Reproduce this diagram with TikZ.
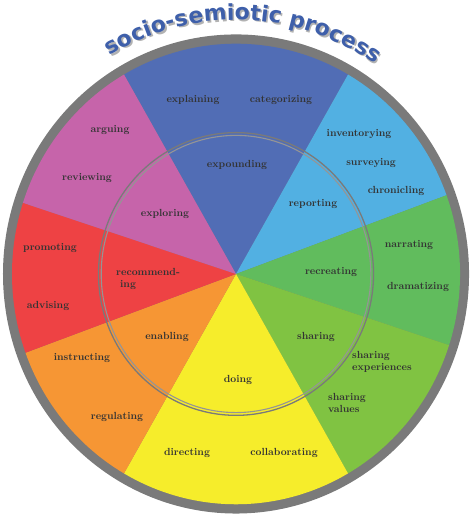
\documentclass[tikz,border=0pt]{standalone}
\usepackage{fontspec}
\newfontfamily\titlefont{DejaVu Sans}
\usetikzlibrary{decorations.text}
\definecolor{expblue}{HTML}{516DB5}
\definecolor{repblue}{HTML}{52B0E2}
\definecolor{recgreen}{HTML}{61BC5D}
\definecolor{shagreen}{HTML}{80C342}
\definecolor{doyellow}{HTML}{F6ED2B}
\definecolor{enaorange}{HTML}{F69634}
\definecolor{recred}{HTML}{EE4244}
\definecolor{explpink}{HTML}{C664AA}
\definecolor{ringgray}{HTML}{7A7A7A}
\definecolor{titleblue}{HTML}{3E5FAA}
\tikzset{
	lbl/.style={font=\fontsize{10.3}{11.5}\selectfont\bfseries, text=black!80, inner sep=0pt},
	twoline/.style={lbl, align=left, anchor=west},
}
\begin{document}
\begin{tikzpicture}[x=1pt, y=1.028pt]
		\useasboundingbox (-236,-239.3) rectangle (236,266.5);
		\fill[ringgray] (0,0) circle [radius=233];
		\fill[expblue] (0,0) -- (60:224) arc[start angle=60, end angle=120, radius=224] -- cycle;
		\fill[repblue] (0,0) -- (20:224) arc[start angle=20, end angle=60, radius=224] -- cycle;
		\fill[recgreen] (0,0) -- (-18:224) arc[start angle=-18, end angle=20, radius=224] -- cycle;
		\fill[shagreen] (0,0) -- (-60:224) arc[start angle=-60, end angle=-18, radius=224] -- cycle;
		\fill[doyellow] (0,0) -- (-120:224) arc[start angle=-120, end angle=-60, radius=224] -- cycle;
		\fill[enaorange] (0,0) -- (200:224) arc[start angle=200, end angle=240, radius=224] -- cycle;
		\fill[recred] (0,0) -- (162:224) arc[start angle=162, end angle=200, radius=224] -- cycle;
		\fill[explpink] (0,0) -- (120:224) arc[start angle=120, end angle=162, radius=224] -- cycle;
		\draw[line width=1.3pt, ringgray] (0,0) circle [radius=137.5];
		\draw[line width=1.1pt, ringgray!80] (0,0) circle [radius=134.8];
		% title, shadow first
		\path[decorate, decoration={text along path, text color=gray!60, text align=center,
			text={|\titlefont\bfseries\fontsize{22}{26}\selectfont|socio-semiotic process}}]
			([shift={(1.5,-1.5)}]148:247) arc[start angle=148, end angle=28.5, radius=247];
		\path[decorate, decoration={text along path, text color=titleblue, text align=center,
			text={|\titlefont\bfseries\fontsize{22}{26}\selectfont|socio-semiotic process}}]
			(148:247) arc[start angle=148, end angle=28.5, radius=247];
		\node[lbl] (explaining) at (-43,169.3) {explaining};
		\node[lbl] (categorizing) at (45,169.3) {categorizing};
		\node[lbl] (expounding) at (1,106) {expounding};
		\node[lbl] (arguing) at (-126,140) {arguing};
		\node[lbl] (reviewing) at (-149,93.4) {reviewing};
		\node[lbl] (exploring) at (-71,58.4) {exploring};
		\node[lbl] (promoting) at (-186,25.3) {promoting};
		\node[twoline] (recommending) at (-120,-4.9) {recommend-\\\hspace*{4pt}ing};
		\node[lbl] (advising) at (-188,-31.1) {advising};
		\node[lbl] (instructing) at (-154,-81.7) {instructing};
		\node[lbl] (enabling) at (-69,-61.3) {enabling};
		\node[lbl] (regulating) at (-119,-139.1) {regulating};
		\node[lbl] (directing) at (-49,-174.1) {directing};
		\node[lbl] (doing) at (2,-103.1) {doing};
		\node[lbl] (collaborating) at (48,-174.1) {collaborating};
		\node[lbl] (sharing) at (80,-61.3) {sharing};
		\node[twoline] (sharexp) at (116,-85.6) {sharing\\experiences};
		\node[twoline] (sharval) at (92,-125.5) {sharing\\values};
		\node[lbl] (recreating) at (95,1.9) {recreating};
		\node[lbl] (dramatizing) at (182,-12.6) {dramatizing};
		\node[lbl] (narrating) at (173,28.2) {narrating};
		\node[lbl] (reporting) at (77,68.1) {reporting};
		\node[lbl] (chronicling) at (160,80.7) {chronicling};
		\node[lbl] (surveying) at (135,108) {surveying};
		\node[lbl] (inventorying) at (123,136.2) {inventorying};
% 		\node (c) at (0,0) {};
	\end{tikzpicture}
\end{document}
